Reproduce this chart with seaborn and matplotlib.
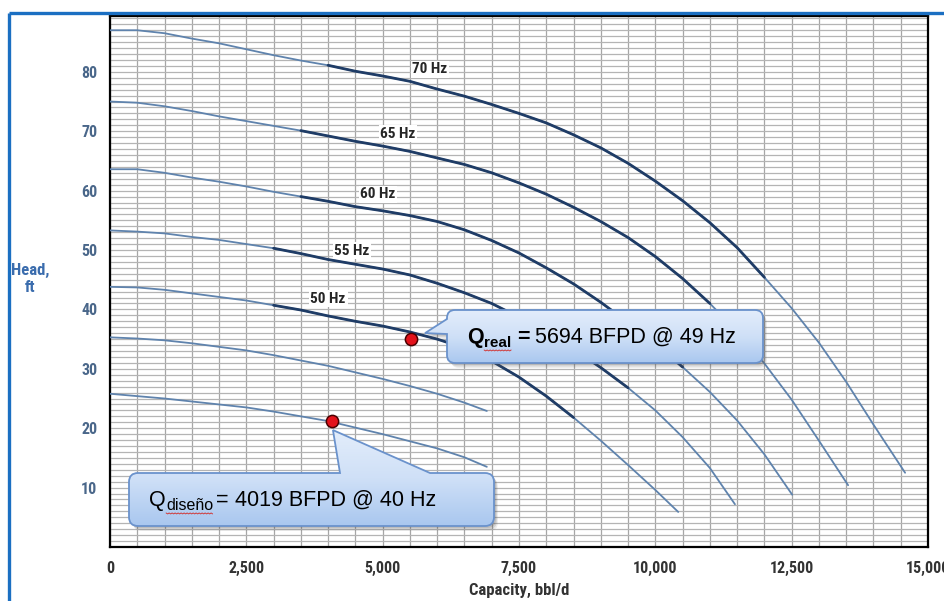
import numpy as np
import pandas as pd
import matplotlib
matplotlib.use("Agg")
import matplotlib.pyplot as plt
import matplotlib.font_manager as fm
from matplotlib.path import Path
from matplotlib.patches import PathPatch
from matplotlib.transforms import Affine2D
from matplotlib.colors import LinearSegmentedColormap
from matplotlib.ticker import MultipleLocator
import seaborn as sns

# ---------------- data ----------------
capacity_ticks = [0, 2500, 5000, 7500, 10000, 12500, 15000]
capacity_tick_labels = ["0", "2,500", "5,000", "7,500", "10,000", "12,500", "15,000"]
head_ticks = [10, 20, 30, 40, 50, 60, 70, 80]
head_tick_labels = ["10", "20", "30", "40", "50", "60", "70", "80"]

q_70 = [0, 500, 1000, 1500, 2000, 2500, 3000, 3500, 4000, 4500, 5000, 5500, 6000, 6500, 7000,
        7500, 8000, 8500, 9000, 9500, 10000, 10500, 11000, 11500, 12000, 12500, 13000, 13500,
        14000, 14580]
h_70 = [87.0, 87.0, 86.5, 85.6, 84.8, 83.8, 82.8, 81.9, 81.1, 80.1, 79.3, 78.4, 77.1, 75.9, 74.5,
        73.0, 71.4, 69.4, 67.2, 64.6, 61.6, 58.3, 54.6, 50.4, 45.4, 40.2, 34.4, 27.8, 20.6, 12.5]

q_65 = [0, 500, 1000, 1500, 2000, 2500, 3000, 3500, 4000, 4500, 5000, 5500, 6000, 6500, 7000,
        7500, 8000, 8500, 9000, 9500, 10000, 10500, 11000, 11500, 12000, 12500, 13000, 13535]
h_65 = [75.0, 74.8, 74.2, 73.4, 72.5, 71.7, 70.9, 70.1, 69.2, 68.3, 67.5, 66.6, 65.5, 64.4, 63.0,
        61.3, 59.4, 57.2, 54.8, 52.1, 48.9, 45.2, 41.0, 36.3, 30.9, 24.8, 17.9, 10.4]

q_60 = [0, 500, 1000, 1500, 2000, 2500, 3000, 3500, 4000, 4500, 5000, 5500, 6000, 6500, 7000,
        7500, 8000, 8500, 9000, 9500, 10000, 10500, 11000, 11500, 12000, 12510]
h_60 = [63.6, 63.6, 63.0, 62.2, 61.5, 60.7, 59.8, 59.0, 58.2, 57.3, 56.6, 55.8, 54.8, 53.4, 51.6,
        49.5, 47.0, 44.3, 41.2, 37.8, 34.2, 30.3, 26.1, 21.3, 15.6, 8.8]

q_55 = [0, 500, 1000, 1500, 2000, 2500, 3000, 3500, 4000, 4500, 5000, 5500, 6000, 6500, 7000,
        7500, 8000, 8500, 9000, 9500, 10000, 10500, 11000, 11460]
h_55 = [53.3, 53.1, 52.8, 52.2, 51.7, 51.0, 50.3, 49.4, 48.4, 47.6, 46.8, 45.8, 44.4, 42.8, 41.0,
        38.7, 36.1, 33.3, 30.2, 26.8, 23.0, 18.5, 13.3, 7.2]

q_50 = [0, 500, 1000, 1500, 2000, 2500, 3000, 3500, 4000, 4500, 5000, 5500, 6000, 6500, 7000,
        7500, 8000, 8500, 9000, 9500, 10000, 10420]
h_50 = [43.8, 43.7, 43.3, 42.7, 42.1, 41.5, 40.7, 39.9, 38.9, 38.0, 37.2, 36.2, 35.0, 33.5, 31.3,
        28.6, 25.4, 21.8, 17.9, 13.8, 9.6, 5.9]

q_45 = [0, 500, 1000, 1500, 2000, 2500, 3000, 3500, 4000, 4500, 5000, 5500, 6000, 6500, 6910]
h_45 = [35.3, 35.1, 34.8, 34.3, 33.7, 33.1, 32.3, 31.4, 30.5, 29.4, 28.3, 27.1, 25.8, 24.3, 22.9]

q_40 = [0, 500, 1000, 1500, 2000, 2500, 3000, 3500, 4000, 4500, 5000, 5500, 6000, 6500, 6910]
h_40 = [25.8, 25.4, 25.0, 24.5, 24.0, 23.5, 22.8, 22.0, 21.2, 20.1, 19.0, 17.8, 16.6, 15.1, 13.5]

curve_names = ["70 Hz", "65 Hz", "60 Hz", "55 Hz", "50 Hz", "45 Hz", "40 Hz"]
curve_q = [q_70, q_65, q_60, q_55, q_50, q_45, q_40]
curve_h = [h_70, h_65, h_60, h_55, h_50, h_45, h_40]

# recommended-range (bold) part of the labelled curves
bold_names = ["70 Hz", "65 Hz", "60 Hz", "55 Hz", "50 Hz"]
bold_from = [4000, 3500, 3500, 3000, 3000]
bold_to = [12000, 11000, 10500, 9500, 8500]

# curve labels
label_q = [5870, 5280, 4915, 4440, 4000]
label_h = [80.4, 69.6, 59.4, 49.9, 41.8]

# operating points
op_q = [5520, 4070]
op_h = [35.0, 21.2]
# callout texts: (text, size, weight, gap before, baseline shift, squiggle)
op_texts = [
    [("Q", 15.5, "bold", 0, 0, False), ("real", 11, "bold", 0.5, 4, True),
     ("=", 15.5, "bold", 6, 0, False), ("5694 BFPD @ 49 Hz", 15.5, "normal", 5, 0, False)],
    [("Q", 15.5, "normal", 0, 0, False), ("diseño", 11.5, "normal", 0.5, 4, True),
     ("=", 15.5, "normal", 3, 0, False), ("4019 BFPD @ 40 Hz", 15.5, "normal", 6, 0, False)],
]

# ---------------- style ----------------
sns.set_style("white")


def pick_condensed():
    names = {f.name for f in fm.fontManager.ttflist}
    for n in ["Roboto Condensed", "Liberation Sans Narrow", "Open Sans Condensed",
              "Noto Sans Condensed", "DejaVu Sans Condensed"]:
        if n in names:
            return n, "normal"
    cond = [f.name for f in fm.fontManager.ttflist
            if str(f.stretch) in ("condensed", "semi-condensed", "extra-condensed")]
    if cond:
        return cond[0], "condensed"
    return "DejaVu Sans", "condensed"


COND, COND_STRETCH = pick_condensed()
plt.rcParams["font.family"] = ["Liberation Sans", "DejaVu Sans"]

THIN = "#5f83ad"
BOLD = "#1f3c66"

W, H = 945, 601
fig = plt.figure(figsize=(W / 100, H / 100), dpi=100)
fig.patch.set_facecolor("white")

ax = fig.add_axes([110 / W, 1 - 547 / H, 818 / W, 531 / H])
ax.set_zorder(1)

rows = []
for name, qs, hs in zip(curve_names, curve_q, curve_h):
    rows.append(pd.DataFrame({"curve": name, "Q": qs, "H": hs}))
df = pd.concat(rows, ignore_index=True)

bold_rows = []
for name, a, b in zip(bold_names, bold_from, bold_to):
    sub = df[(df["curve"] == name) & (df["Q"] >= a) & (df["Q"] <= b)]
    bold_rows.append(sub)
df_bold = pd.concat(bold_rows, ignore_index=True)

sns.lineplot(data=df, x="Q", y="H", units="curve", estimator=None, sort=False,
             color=THIN, lw=1.3, ax=ax, legend=False, zorder=3)
sns.lineplot(data=df_bold, x="Q", y="H", units="curve", estimator=None, sort=False,
             color=BOLD, lw=2.0, ax=ax, legend=False, zorder=4)

sns.scatterplot(x=op_q, y=op_h, s=78, color="#e3121b", edgecolor="#4a0000",
                linewidth=1.1, ax=ax, zorder=8, legend=False)

for name, lq, lh in zip(bold_names, label_q, label_h):
    ax.text(lq, lh, name, ha="center", va="center", fontsize=11, fontweight="bold",
            family=COND, fontstretch=COND_STRETCH, color="#262626", zorder=6,
            bbox=dict(facecolor="white", edgecolor="none", pad=1.2))

ax.set_xlim(0, 15000)
ax.set_ylim(0, 89.4)
ax.set_xticks(capacity_ticks)
ax.set_xticklabels(capacity_tick_labels)
ax.set_yticks(head_ticks)
ax.set_yticklabels(head_tick_labels)
ax.xaxis.set_minor_locator(MultipleLocator(500))
ax.yaxis.set_minor_locator(MultipleLocator(1))
ax.grid(True, which="both", axis="x", color="#a6a6a6", lw=0.9)
ax.grid(True, which="both", axis="y", color="#b4b4b4", lw=0.9)
ax.set_axisbelow(True)
ax.tick_params(which="both", length=0)
ax.tick_params(axis="x", pad=10, labelsize=11.5, labelcolor="#333333")
ax.tick_params(axis="y", pad=9, labelsize=11.5, labelcolor="#4a678a")
for lab in ax.get_xticklabels() + ax.get_yticklabels():
    lab.set_family(COND)
    lab.set_fontstretch(COND_STRETCH)
    lab.set_fontweight("bold")
for s in ax.spines.values():
    s.set_visible(True)
    s.set_color("black")
    s.set_linewidth(1.6)

ax.set_xlabel("Capacity, bbl/d", fontsize=12, fontweight="bold", family=COND,
              fontstretch=COND_STRETCH, color="#333333")
ax.xaxis.set_label_coords(0.5, -0.068)
ax.set_ylabel("Head,\nft", rotation=0, fontsize=12, fontweight="bold", family=COND,
              fontstretch=COND_STRETCH, color="#3a6cad", ha="center", va="center",
              multialignment="center", linespacing=1.15)
ax.yaxis.set_label_coords(-0.098, 0.505)

# ---------------- overlay (frame + callouts) in pixel units ----------------
ov = fig.add_axes([0, 0, 1, 1])
ov.set_zorder(2)
ov.set_xlim(0, W)
ov.set_ylim(H, 0)
ov.axis("off")

FRAME = "#1b6fc2"
ov.plot([9, 9], [13, H + 5], color=FRAME, lw=2.4, solid_capstyle="butt")
ov.plot([9, W + 5], [13, 13], color=FRAME, lw=2.4, solid_capstyle="butt")

renderer = fig.canvas.get_renderer()


def to_px(q, h):
    disp = ax.transData.transform((q, h))
    return ov.transData.inverted().transform(disp)


def callout_path(x0, y0, x1, y1, r, edge, a, b, tip):
    V, C = [], []

    def mv(p):
        V.append(p); C.append(Path.MOVETO)

    def ln(p):
        V.append(p); C.append(Path.LINETO)

    def cv(c, p):
        V.extend([c, p]); C.extend([Path.CURVE3, Path.CURVE3])

    mv((x0 + r, y0))
    if edge == "top":
        ln((a, y0)); ln(tuple(tip)); ln((b, y0))
    ln((x1 - r, y0)); cv((x1, y0), (x1, y0 + r))
    ln((x1, y1 - r)); cv((x1, y1), (x1 - r, y1))
    ln((x0 + r, y1)); cv((x0, y1), (x0, y1 - r))
    if edge == "left":
        ln((x0, b)); ln(tuple(tip)); ln((x0, a))
    ln((x0, y0 + r)); cv((x0, y0), (x0 + r, y0))
    V.append((x0 + r, y0)); C.append(Path.CLOSEPOLY)
    return Path(V, C)


grad_cmap = LinearSegmentedColormap.from_list("callout", ["#e3edfb", "#cfe0f7", "#a9c7ef"])


def draw_callout(path, parts, tx, ty):
    for off, alpha in [((4, 5), 0.10), ((3, 3.5), 0.16), ((2, 2), 0.18)]:
        sh = path.transformed(Affine2D().translate(*off))
        ov.add_patch(PathPatch(sh, facecolor="#555555", edgecolor="none", alpha=alpha, zorder=3))
    patch = PathPatch(path, facecolor="none", edgecolor="none", zorder=4)
    ov.add_patch(patch)
    v = path.vertices
    x_min, x_max = v[:, 0].min(), v[:, 0].max()
    y_min, y_max = v[:, 1].min(), v[:, 1].max()
    g = np.linspace(0, 1, 256)[:, None]
    im = ov.imshow(g, cmap=grad_cmap, extent=(x_min, x_max, y_max, y_min), origin="upper",
                   aspect="auto", zorder=4, interpolation="bilinear")
    im.set_clip_path(patch)
    ov.add_patch(PathPatch(path, facecolor="none", edgecolor="#6a92cc", lw=1.3, zorder=5))
    x = tx
    for text, size, weight, gap, dy, squiggle in parts:
        x += gap
        t = ov.text(x, ty + dy, text, ha="left", va="baseline", fontsize=size,
                    fontweight=weight, color="black", family="Liberation Sans", zorder=6)
        w = t.get_window_extent(renderer).width
        if squiggle:
            xs = np.arange(x, x + w + 0.1, 1.5)
            ys = ty + dy + 3 + 0.9 * (np.arange(len(xs)) % 2)
            ov.plot(xs, ys, color="#d03a3a", lw=0.7, zorder=6)
        x += w


p_real = to_px(op_q[0], op_h[0])
tip_real = (p_real[0] + 14, p_real[1] - 6)
path_real = callout_path(447, 310, 763, 363, 8, "left", 319, 334, tip_real)
draw_callout(path_real, op_texts[0], 467, 343)

p_dis = to_px(op_q[1], op_h[1])
tip_dis = (p_dis[0] + 1, p_dis[1] + 9)
path_dis = callout_path(129, 473, 494, 526, 9, "top", 340, 430, tip_dis)
draw_callout(path_dis, op_texts[1], 149, 506)

ov.set_xlim(0, W)
ov.set_ylim(H, 0)

fig.savefig("out.png", dpi=100, facecolor="white")
